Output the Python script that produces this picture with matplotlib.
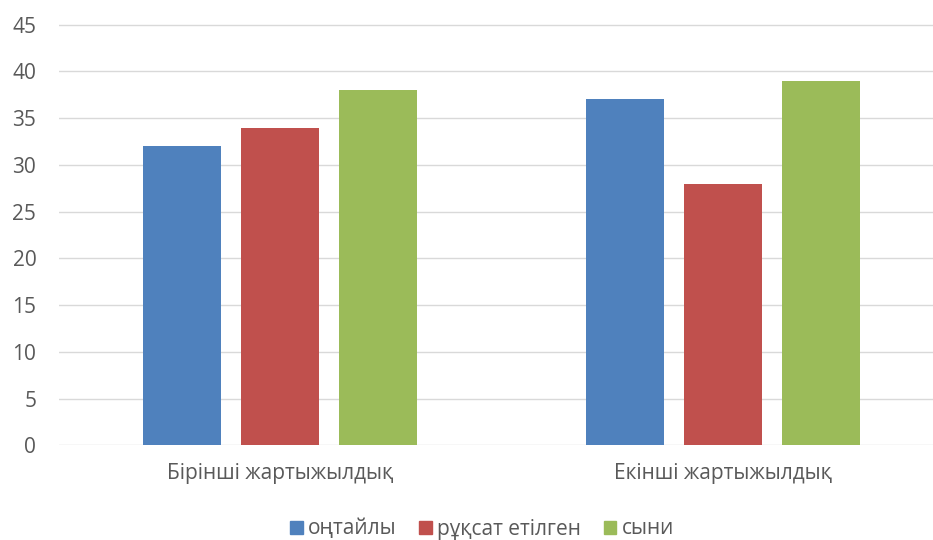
import matplotlib.pyplot as plt
import numpy as np
from matplotlib.patches import Patch

categories = ['Бірінші жартыжылдық', 'Екінші жартыжылдық']
series = ['оңтайлы', 'рұқсат етілген', 'сыни']
optimal = [32, 37]
allowed = [34, 28]
critical = [38, 39]
colors = ['#4F81BD', '#C0504D', '#9BBB59']

plt.rcParams['font.family'] = ['Open Sans', 'DejaVu Sans']
text_color = '#595959'

fig = plt.figure(figsize=(9.33, 5.4), dpi=100)
ax = fig.add_axes([58.5 / 933, (540 - 445.3) / 540, (933 - 58.5) / 933, (445.3 - 20) / 540])

x = np.arange(len(categories))
width = 0.175
step = 0.221
for i, (vals, c) in enumerate(zip([optimal, allowed, critical], colors)):
    ax.bar(x + (i - 1) * step, vals, width, color=c, zorder=3)

ax.set_xlim(-0.5, (933 - 280) / 443)
ax.set_ylim(0, 45 + 4.7 / 9.347)
ax.set_yticks(range(0, 50, 5))
ax.set_xticks(x)
ax.set_xticklabels(categories)
ax.yaxis.grid(True, color='#d9d9d9', linewidth=1.0, zorder=0)
for s in ax.spines.values():
    s.set_visible(False)
ax.tick_params(axis='y', length=0, pad=16, labelsize=15, labelcolor=text_color)
ax.tick_params(axis='x', length=0, pad=13, labelsize=15, labelcolor=text_color)

handles = [Patch(color=c) for c in colors]
fig.legend(handles, series, loc='center', bbox_to_anchor=(482 / 933, 1 - 529 / 540),
           ncol=3, frameon=False, fontsize=15, labelcolor=text_color,
           handlelength=0.6, handleheight=0.6, handletextpad=0.25, columnspacing=1.1)

fig.savefig('out.png', dpi=100)
